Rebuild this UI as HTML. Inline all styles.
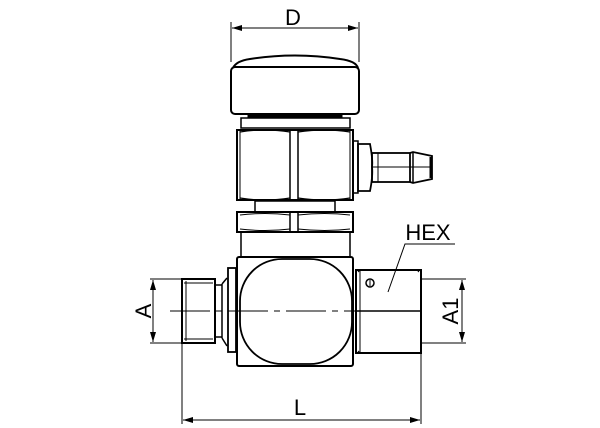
<!DOCTYPE html>
<html><head><style>body{margin:0;background:#fff}svg{display:block}</style></head><body>
<svg width="600" height="428" viewBox="0 0 600 428" xmlns="http://www.w3.org/2000/svg" font-family="Liberation Sans, sans-serif">
<defs>
<marker id="ar" viewBox="0 0 10 6" refX="10" refY="3" markerWidth="10" markerHeight="6" orient="auto-start-reverse" markerUnits="userSpaceOnUse"><path d="M0,0 L10,3 L0,6 z" fill="#000"/></marker>
</defs>
<g fill="none" stroke="#000" stroke-width="1">
<line x1="231" y1="22" x2="231" y2="62"/><line x1="359" y1="22" x2="359" y2="62"/>
<line x1="232" y1="28" x2="358" y2="28" marker-start="url(#ar)" marker-end="url(#ar)"/>
</g>
<g fill="none" stroke="#000" stroke-width="2">
<path d="M233,68 Q236,61 250,59 Q295,52 340,59 Q356,61 358,68"/>
<rect x="231" y="67" width="128" height="47" rx="4"/>
<rect x="248" y="115" width="94" height="3" fill="#000" stroke-width="1"/>
<rect x="241" y="118" width="109" height="10" stroke-width="1.5"/>
<path d="M237,130 L237,200 L353,200 L353,130 Z"/>
<path d="M240,132 Q265,128 290,132 M298,132 Q325,128 350,132 M240,198 Q265,202 290,198 M298,198 Q325,202 350,198" stroke-width="1.2"/>
<line x1="290" y1="130" x2="290" y2="200" stroke-width="1.5"/><line x1="298" y1="130" x2="298" y2="200" stroke-width="1.5"/>
<line x1="240" y1="130" x2="240" y2="200" stroke-width="1"/><line x1="350" y1="130" x2="350" y2="200" stroke-width="1"/>
<rect x="353" y="141" width="5" height="52" stroke-width="1.5"/>
<path d="M358,144 L370,144 Q373,160 372,167 Q373,176 370,191 L358,191 Z" stroke-width="1.8"/>
<rect x="372" y="153" width="38" height="29" stroke-width="1.8"/>
<line x1="378" y1="153" x2="378" y2="182" stroke-width="1"/>
<path d="M410,153 L413,152 L432,156 L432,179 L413,183 L410,182" stroke-width="1.8"/>
<line x1="413" y1="152" x2="413" y2="183" stroke-width="1.5"/>
<line x1="431" y1="157" x2="431" y2="178" stroke-width="3"/>
<line x1="372" y1="167" x2="432" y2="167" stroke-width="1"/>
<rect x="255" y="201" width="80" height="11" stroke-width="1.5"/>
<rect x="237" y="212" width="116" height="20"/>
<path d="M240,215 Q265,212 290,215 M298,215 Q325,212 350,215 M240,229 Q265,232 290,229 M298,229 Q325,232 350,229" stroke-width="1"/>
<line x1="290" y1="212" x2="290" y2="232" stroke-width="1.5"/><line x1="298" y1="212" x2="298" y2="232" stroke-width="1.5"/>
<path d="M241,232 L241,257 M350,232 L350,257" stroke-width="1.5"/>
<rect x="237" y="257" width="116" height="109" rx="2"/>
<rect x="240" y="259" width="112" height="105" rx="42" stroke-width="1.8"/>
<rect x="228" y="268" width="8" height="84" stroke-width="1.8"/>
<path d="M222,284 L227,278 M222,338 L227,346 M222,284 L222,338" stroke-width="1.5"/>
<rect x="182" y="279" width="33" height="64"/>
<path d="M215,285 L222,285 M215,337 L222,337" stroke-width="1.5"/>
<line x1="184" y1="283" x2="213" y2="283" stroke-width="1"/><line x1="184" y1="339" x2="213" y2="339" stroke-width="1"/>
<line x1="186" y1="281" x2="186" y2="341" stroke-width="1"/>
<rect x="356" y="270" width="65" height="83"/>
<line x1="356" y1="311" x2="421" y2="311" stroke-width="1.5"/>
<path d="M358,272 L360,270 M358,351 L360,353 M419,272 L417,270" stroke-width="1"/>
<line x1="360" y1="270" x2="360" y2="353" stroke-width="1"/>
<circle cx="370" cy="283" r="4" stroke-width="1.5"/>
</g>
<g fill="none" stroke="#000" stroke-width="1">
<line x1="370" y1="280" x2="370" y2="286"/>
<line x1="170" y1="311" x2="355" y2="311" stroke-dasharray="40,6,6,6"/>
<path d="M388,292 L405,244 L455,244"/>
<line x1="150" y1="279" x2="182" y2="279"/><line x1="150" y1="343" x2="182" y2="343"/>
<line x1="153" y1="280" x2="153" y2="342" marker-start="url(#ar)" marker-end="url(#ar)"/>
<line x1="421" y1="279" x2="466" y2="279"/><line x1="421" y1="343" x2="466" y2="343"/>
<line x1="462" y1="280" x2="462" y2="342" marker-start="url(#ar)" marker-end="url(#ar)"/>
<line x1="182" y1="343" x2="182" y2="424"/><line x1="421" y1="353" x2="421" y2="424"/>
<line x1="183" y1="420" x2="420" y2="420" marker-start="url(#ar)" marker-end="url(#ar)"/>
</g>
<g font-size="22" fill="#000">
<text x="293" y="25" text-anchor="middle">D</text>
<text x="428" y="240" text-anchor="middle">HEX</text>
<text x="300" y="415" text-anchor="middle">L</text>
<text transform="translate(151,311) rotate(-90)" text-anchor="middle">A</text>
<text transform="translate(458,311) rotate(-90)" text-anchor="middle">A1</text>
</g>
</svg>
</body></html>
